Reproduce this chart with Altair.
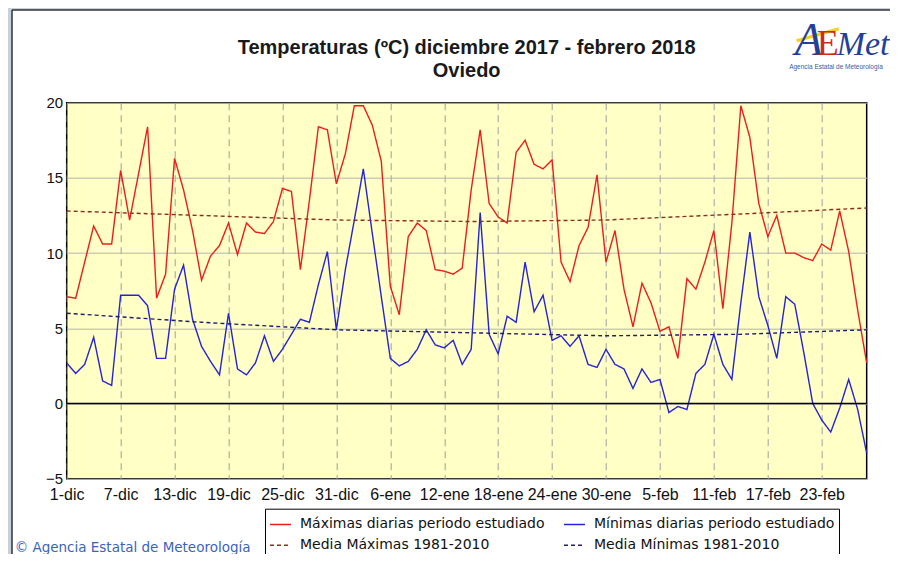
import altair as alt
import pandas as pd

# ---- data ----
days = list(range(90))  # 0 = 1-dic-2017 ... 89 = 28-feb-2018

tmax = [7.1, 7.0, 9.4, 11.8, 10.6, 10.6, 15.5, 12.2, 15.3, 18.4,
        7.0, 8.6, 16.3, 14.2, 11.5, 8.2, 9.8, 10.5, 12.0, 9.9,
        12.0, 11.4, 11.3, 12.1, 14.3, 14.1, 8.9, 13.5, 18.4, 18.2,
        14.6, 16.6, 19.8, 19.8, 18.5, 16.1, 7.8, 5.9, 11.1, 12.0,
        11.5, 8.9, 8.8, 8.6, 9.0, 14.2, 18.2, 13.3, 12.4, 12.0,
        16.7, 17.5, 15.9, 15.6, 16.2, 9.4, 8.1, 10.5, 11.7, 15.2,
        9.4, 11.5, 7.6, 5.1, 8.0, 6.7, 4.8, 5.1, 3.0, 8.3,
        7.6, 9.4, 11.5, 6.3, 12.0, 19.8, 17.7, 13.3, 11.1, 12.5,
        10.0, 10.0, 9.7, 9.5, 10.6, 10.2, 12.8, 10.1, 6.2, 2.7]

tmin = [2.7, 2.0, 2.6, 4.4, 1.5, 1.2, 7.2, 7.2, 7.2, 6.5,
        3.0, 3.0, 7.6, 9.2, 5.6, 3.8, 2.8, 1.9, 6.0, 2.3,
        1.9, 2.7, 4.5, 2.8, 3.6, 4.6, 5.6, 5.4, 7.9, 10.1,
        4.9, 8.9, 12.2, 15.6, 11.3, 7.1, 3.0, 2.5, 2.8, 3.6,
        4.9, 3.9, 3.7, 4.2, 2.6, 3.6, 12.7, 4.6, 3.3, 5.8,
        5.4, 9.4, 6.1, 7.2, 4.2, 4.5, 3.8, 4.5, 2.6, 2.4,
        3.6, 2.6, 2.3, 1.0, 2.3, 1.4, 1.6, -0.6, -0.2, -0.4,
        2.0, 2.6, 4.6, 2.6, 1.6, 6.7, 11.4, 7.1, 5.2, 3.0,
        7.1, 6.6, 3.4, 0.0, -1.1, -1.9, -0.3, 1.6, -0.4, -3.3]

mean_days = [0, 15, 30, 45, 60, 75, 89]
mean_max = [12.8, 12.5, 12.2, 12.1, 12.2, 12.6, 13.0]
mean_min = [6.0, 5.4, 4.9, 4.7, 4.5, 4.6, 4.9]

tick_days = [0, 6, 12, 18, 24, 30, 36, 42, 48, 54, 60, 66, 72, 78, 84]
tick_labels = ["1-dic", "7-dic", "13-dic", "19-dic", "25-dic", "31-dic", "6-ene",
               "12-ene", "18-ene", "24-ene", "30-ene", "5-feb", "11-feb", "17-feb", "23-feb"]
y_ticks = [-5, 0, 5, 10, 15, 20]

series_names = ["Máximas diarias periodo estudiado", "Mínimas diarias periodo estudiado",
                "Media Máximas 1981-2010", "Media Mínimas 1981-2010"]
series_colors = ["#ee1c1c", "#2424d8", "#8a2e1e", "#1e1e70"]
series_dash = [[1, 0], [1, 0], [4, 3], [4, 3]]

title_lines = ["Temperaturas (ºC) diciembre 2017 - febrero 2018", "Oviedo"]
credit = "© Agencia Estatal de Meteorología"

# ---- build table ----
rows = []
for d, v in zip(days, tmax):
    rows.append({"day": d, "temp": v, "series": series_names[0]})
for d, v in zip(days, tmin):
    rows.append({"day": d, "temp": v, "series": series_names[1]})
for d, v in zip(mean_days, mean_max):
    rows.append({"day": d, "temp": v, "series": series_names[2]})
for d, v in zip(mean_days, mean_min):
    rows.append({"day": d, "temp": v, "series": series_names[3]})
df = pd.DataFrame(rows)

FONT = "Liberation Sans"
WIDE = "DejaVu Sans"
W, H = 800, 376
PL, PT = 58.7, 94.7  # padding -> plot origin at page (66.7, 102.7)

label_arr = "[" + ",".join("'%s'" % s for s in tick_labels) + "]"

legend = alt.Legend(
    title=None, orient="none", legendX=198.3, legendY=406, columns=2, direction="horizontal",
    strokeColor="black", fillColor="white", padding=4,
    labelFont=WIDE, labelFontSize=14, labelColor="#111", labelLimit=500,
    symbolType="stroke", symbolSize=441, symbolStrokeWidth=1.6,
    columnPadding=15, rowPadding=2, labelOffset=8,
)

x_enc = alt.X("day:Q", scale=alt.Scale(domain=[0, 89], nice=False, zero=False),
              axis=alt.Axis(values=tick_days, labelExpr=label_arr + "[round(datum.value/6)]",
                            title=None, grid=True, gridDash=[7, 5], gridColor="#a0a0a0",
                            ticks=False, domain=False, labelFlush=False, labelOverlap=False,
                            labelFont=FONT, labelFontSize=16, labelColor="#111", labelPadding=8))
y_enc = alt.Y("temp:Q", scale=alt.Scale(domain=[-5, 20], nice=False),
              axis=alt.Axis(values=y_ticks, title=None, grid=True, gridColor="#b4b4b4",
                            ticks=False, domain=False, labelFlush=False,
                            labelFont=FONT, labelFontSize=15, labelColor="#111", labelPadding=4))

lines = alt.Chart(df).mark_line(strokeWidth=1.4).encode(
    x=x_enc, y=y_enc,
    color=alt.Color("series:N", sort=None,
                    scale=alt.Scale(domain=series_names, range=series_colors), legend=legend),
    strokeDash=alt.StrokeDash("series:N", sort=None,
                              scale=alt.Scale(domain=series_names, range=series_dash), legend=legend),
)

one = pd.DataFrame({"k": [0]})
zero_line = alt.Chart(one).mark_rule(color="black", strokeWidth=1.5).encode(y=alt.datum(0))

# panel border & background strips (decoration)
deco = [
    alt.Chart(one).mark_rect(color="#c7d0dc").encode(
        x=alt.value(-PL), x2=alt.value(-54.7), y=alt.value(-PT), y2=alt.value(H + 80)),
    alt.Chart(one).mark_rect(color="#c7d0dc").encode(
        x=alt.value(-PL), x2=alt.value(W + 40), y=alt.value(-PT), y2=alt.value(-92.7)),
    alt.Chart(one).mark_rule(color="#333", strokeWidth=1.5).encode(
        x=alt.value(-54.7), y=alt.value(-92.7), y2=alt.value(H + 80)),
    alt.Chart(one).mark_rule(color="#333", strokeWidth=1.5).encode(
        x=alt.value(-54.7), x2=alt.value(W + 40), y=alt.value(-92.7)),
]

# title as text (two lines)
titles = [
    alt.Chart(one).mark_text(text=title_lines[0], font=FONT, fontSize=20, fontWeight="bold",
                             color="#1a1a1a", align="center", baseline="alphabetic").encode(
        x=alt.value(W / 2), y=alt.value(-48.4)),
    alt.Chart(one).mark_text(text=title_lines[1], font=FONT, fontSize=20, fontWeight="bold",
                             color="#1a1a1a", align="center", baseline="alphabetic").encode(
        x=alt.value(W / 2), y=alt.value(-26)),
]

credit_txt = alt.Chart(one).mark_text(
    text=credit, font=WIDE, fontSize=13.5, color="#3a62c0", align="left", baseline="middle"
).encode(x=alt.value(-52), y=alt.value(445.5))

# logo (text approximation)
logo = [
    alt.Chart(one).mark_rule(color="#f2d21a", strokeWidth=3).encode(
        x=alt.value(730), x2=alt.value(772), y=alt.value(-62), y2=alt.value(-74)),
    alt.Chart(one).mark_text(text="A", font="Liberation Serif", fontStyle="italic", fontSize=46,
                             color="#23409a", align="center", baseline="alphabetic").encode(
        x=alt.value(742), y=alt.value(-47.7)),
    alt.Chart(one).mark_text(text="E", font="Liberation Serif", fontSize=36,
                             color="#d02a1e", align="center", baseline="alphabetic").encode(
        x=alt.value(761), y=alt.value(-47.7)),
    alt.Chart(one).mark_text(text="Met", font="Liberation Serif", fontStyle="italic", fontSize=34,
                             color="#23409a", align="left", baseline="alphabetic").encode(
        x=alt.value(770), y=alt.value(-47.7)),
    alt.Chart(one).mark_text(text="Agencia Estatal de Meteorología", font=FONT, fontSize=6.5,
                             color="#3a5aa8", align="left", baseline="middle").encode(
        x=alt.value(722.5), y=alt.value(-36)),
]

chart = alt.layer(*deco, lines, zero_line, *titles, credit_txt, *logo).properties(
    width=W, height=H,
    autosize=alt.AutoSizeParams(type="none"),
    padding={"left": PL, "top": PT, "right": 23, "bottom": 75},
).configure(background="white").configure_view(
    fill="#ffffc6", stroke="black", strokeWidth=1.5
)

chart.save("out.html", embed_options={"renderer": "svg", "actions": False})
